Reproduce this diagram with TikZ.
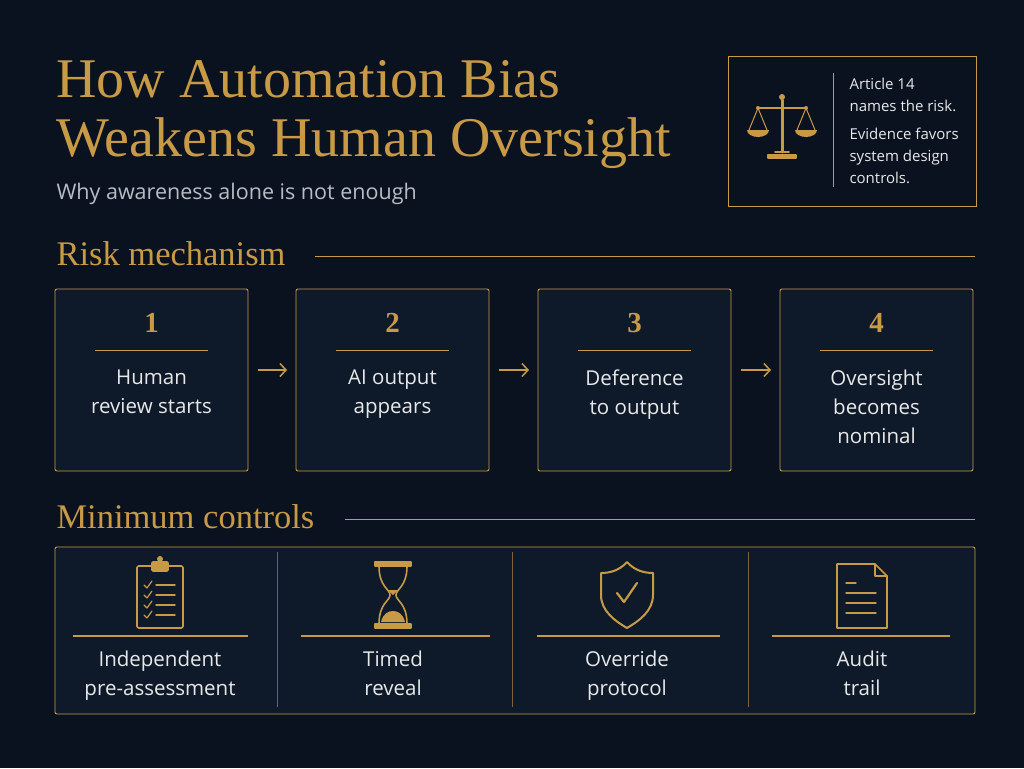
\documentclass[tikz,border=0pt]{standalone}
\usepackage{fontspec}
\usetikzlibrary{arrows.meta,calc}
\setmainfont{Liberation Serif}
\newfontfamily\sans{Open Sans}
\definecolor{bg}{HTML}{0A1220}
\definecolor{boxbg}{HTML}{0E1A2A}
\definecolor{gold}{HTML}{C99A45}
\definecolor{txt}{HTML}{E8E8E8}
\definecolor{sub}{HTML}{B8BCC4}
\begin{document}
\begin{tikzpicture}[x=1pt,y=-1pt,
  card/.style={draw=gold,line width=0.9pt,fill=boxbg,rounded corners=2pt},
  num/.style={text=gold,font=\bfseries\fontsize{29}{30}\selectfont},
  lbl/.style={text=txt,font=\sans\fontsize{20.5}{29}\selectfont,align=center},
  rule/.style={draw=gold,line width=0.8pt},
  head/.style={text=gold,font=\fontsize{34.5}{36}\selectfont,anchor=base west},
  ico/.style={draw=gold,line width=1.6pt,line join=round,line cap=round},
  arr/.style={draw=gold,line width=1.5pt,-{Straight Barb[length=6pt,width=13pt]}}]
\fill[bg] (0,0) rectangle (1024,768);
\useasboundingbox (0,0) rectangle (1024,768);
% title
\node[text=gold,anchor=base west,font=\fontsize{56}{60}\selectfont] (title) at (53,97) {How Automation Bias};
\node[text=gold,anchor=base west,font=\fontsize{56}{60}\selectfont] (title2) at (53,156) {Weakens Human Oversight};
\node[text=sub,anchor=base west,font=\sans\fontsize{21.5}{24}\selectfont] (subt) at (53,199) {Why awareness alone is not enough};
% info box
\draw[draw=gold,line width=0.9pt] (728,56) rectangle (976,206);
\draw[rule] (833,73) -- (833,187);
\node[text=txt,anchor=north west,align=left,font=\sans\fontsize{15}{22}\selectfont] (info1) at (846,75) {Article 14\\names the risk.};
\node[text=txt,anchor=north west,align=left,font=\sans\fontsize{15}{22}\selectfont] (info2) at (846,124) {Evidence favors\\system design\\controls.};
% scales
\begin{scope}[shift={(782,125)}]
\draw[ico,fill=gold] (-14,30) rectangle (14,33);
\draw[ico] (-7,27) -- (7,27);
\draw[ico,line width=3pt] (0,-25) -- (0,27);
\fill[gold] (0,-28) circle (3);
\draw[ico,line width=2pt] (-24,-17) -- (24,-17);
\fill[gold] (-24,-17) circle (2) (24,-17) circle (2);
\draw[ico,line width=1pt] (-24,-17) -- (-33,5) (-24,-17) -- (-15,5) (24,-17) -- (15,5) (24,-17) -- (33,5);
\fill[gold] (-35,5) -- (-13,5) arc (0:180:11 and 7) -- cycle;
\fill[gold] (13,5) -- (35,5) arc (0:180:11 and 7) -- cycle;
\end{scope}
% Risk mechanism
\node[head] (rm) at (53,265) {Risk mechanism};
\draw[rule] (315,256) -- (975,256);
\foreach \i/\x/\n/\t in {1/55/1/{Human\\review starts},2/296/2/{AI output\\appears},3/538/3/{Deference\\to output},4/780/4/{Oversight\\becomes\\nominal}}{
  \draw[card] (\x,289) rectangle ++(193,182);
  \node[num] (n\i) at (\x+96.5,323) {\n};
  \draw[rule] (\x+40,350) -- (\x+153,350);
  \node[lbl,anchor=north] (t\i) at (\x+96.5,366) {\t};
  \coordinate (L\i) at (\x,370);
  \coordinate (R\i) at (\x+193,370);
}
\draw[arr] ($(R1)+(10,0)$) -- ($(L2)+(-9,0)$);
\draw[arr] ($(R2)+(10,0)$) -- ($(L3)+(-9,0)$);
\draw[arr] ($(R3)+(10,0)$) -- ($(L4)+(-9,0)$);
% Minimum controls
\node[head] (mc) at (53,528) {Minimum controls};
\draw[rule] (345,519) -- (975,519);
\draw[card] (55,547) rectangle (975,714);
\foreach \x in {277,512,748} \draw[draw=gold!60!bg,line width=0.8pt] (\x,552) -- (\x,707);
\foreach \i/\c/\a/\b/\t in {1/160/73/248/{Independent\\pre-assessment},2/393/301/490/{Timed\\reveal},3/627/537/720/{Override\\protocol},4/862/772/950/{Audit\\trail}}{
  \draw[rule,line width=1.2pt] (\a,636) -- (\b,636);
  \node[lbl,anchor=north] (c\i) at (\c,647) {\t};
}
% clipboard
\begin{scope}[shift={(160,595)}]
\draw[ico,rounded corners=1.5pt] (-23,-29) rectangle (23,33);
\draw[ico,fill=gold,rounded corners=1pt] (-8,-33) rectangle (8,-24);
\fill[gold] (0,-36) circle (3);
\foreach \y in {-10,0,10,20}{
  \draw[ico,line width=1.2pt] (-16,\y) -- (-13,\y+3) -- (-8,\y-4);
  \draw[ico,line width=1.4pt] (-4,\y) -- (15,\y);
}
\end{scope}
% hourglass
\begin{scope}[shift={(393,595)}]
\draw[ico,fill=gold] (-18,-33) rectangle (18,-29);
\draw[ico,fill=gold] (-18,29) rectangle (18,33);
\draw[ico] (-14,-29) .. controls (-14,-8) and (-3,-6) .. (-3,0) .. controls (-3,6) and (-14,8) .. (-14,29);
\draw[ico] (14,-29) .. controls (14,-8) and (3,-6) .. (3,0) .. controls (3,6) and (14,8) .. (14,29);
\fill[gold] (-5,-5) -- (5,-5) -- (0,0) -- cycle;
\fill[gold] (-12,27) .. controls (-10,18) and (-4,16) .. (0,16) .. controls (4,16) and (10,18) .. (12,27) -- cycle;
\end{scope}
% shield
\begin{scope}[shift={(627,595)}]
\draw[ico,line width=2pt] (0,-33) .. controls (-8,-24) and (-18,-22) .. (-26,-22) -- (-26,0) .. controls (-26,16) and (-12,26) .. (0,33) .. controls (12,26) and (26,16) .. (26,0) -- (26,-22) .. controls (18,-22) and (8,-24) .. (0,-33) -- cycle;
\draw[ico,line width=2.2pt] (-10,-2) -- (-3,7) -- (10,-12);
\end{scope}
% document
\begin{scope}[shift={(862,595)}]
\draw[ico] (-25,-31) -- (13,-31) -- (25,-19) -- (25,33) -- (-25,33) -- cycle;
\draw[ico] (13,-31) -- (13,-19) -- (25,-19);
\draw[ico,line width=1.4pt] (-16,-12) -- (-6,-12);
\foreach \y in {-2,8,18} \draw[ico,line width=1.4pt] (-16,\y) -- (14,\y);
\end{scope}
\end{tikzpicture}
\end{document}
